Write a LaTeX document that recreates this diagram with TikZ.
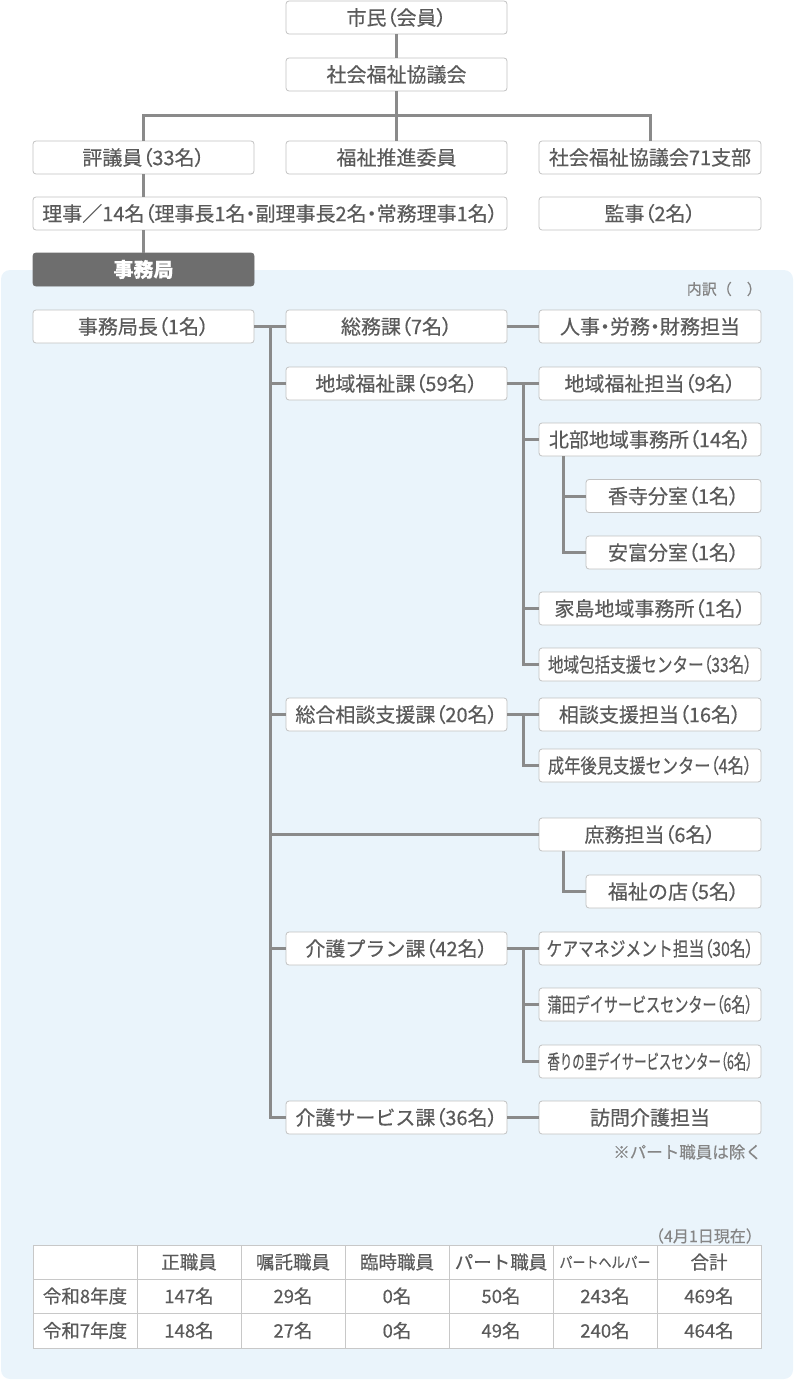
\documentclass[tikz,border=0pt]{standalone}
\usepackage{fontspec}
\setmainfont{Noto Sans CJK JP}[FakeBold=0.4]
\newfontfamily\pal{Noto Sans CJK JP}[RawFeature=+palt, FakeBold=0.4]
\usepackage{graphicx}
\definecolor{textgray}{HTML}{5A5A5A}
\definecolor{lightgray}{HTML}{858585}
\definecolor{linegray}{HTML}{8A8A8A}
\definecolor{bordergray}{HTML}{C2C2C2}
\definecolor{tablegray}{HTML}{C8C8C8}
\definecolor{bgblue}{HTML}{EAF4FB}
\definecolor{darkbox}{HTML}{6E6E6E}
\newcommand\sqz[2]{\resizebox{#1}{\height}{#2}}
\newcommand\lp{{\pal （}}
\newcommand\rp{{\pal ）}}
\newcommand\nk{{\pal ・}}
\tikzset{
  box/.style={draw=bordergray, line width=0.8pt, fill=white, rounded corners=3pt,
    minimum height=33pt, inner sep=0pt, text=textgray, font=\fontsize{20}{20}\selectfont},
  wa/.style={box, minimum width=221pt},
  wb/.style={box, minimum width=222pt},
  wc/.style={box, minimum width=175pt},
  dark/.style={box, draw=darkbox, fill=darkbox, text=white, font=\bfseries\fontsize{20}{20}\selectfont, minimum width=221pt},
  conn/.style={draw=linegray, line width=3pt},
  cell/.style={draw=tablegray, line width=0.8pt, fill=white, minimum width=104pt, minimum height=34pt,
    inner sep=0pt, text=textgray, font=\fontsize{18.5}{18.5}\selectfont},
  note/.style={anchor=east, inner sep=0pt, text=lightgray},
}
\begin{document}
\begin{tikzpicture}[x=1pt,y=-1pt]
\useasboundingbox (0,0) rectangle (794,1380);
\fill[bgblue, rounded corners=9pt] (1,270) rectangle (793,1379);

% top hierarchy
\node[wa] (shimin) at (396.5,17.5) {市民\lp 会員\rp};
\node[wa] (shakyo) at (396.5,74.5) {社会福祉協議会};
\node[wa] (hyogi) at (143.5,157.5) {評議員\lp 33名\rp};
\node[wa] (suishin) at (396.5,157.5) {福祉推進委員};
\node[wb] (shibu) at (650,157.5) {社会福祉協議会71支部};
\node[box, minimum width=474pt] (riji) at (270,213.5) {理事／14名\lp 理事長1名\nk 副理事長2名\nk 常務理事1名\rp};
\node[wb] (kanji) at (650,213.5) {監事\lp 2名\rp};
\node[dark] (jimu) at (143.5,269.5) {事務局};

\node[note, font=\fontsize{15}{15}\selectfont] (uchiwake) at (762,289) {内訳（　）};

% secretariat
\node[wa] (kyokucho) at (143.5,326.5) {事務局長\lp 1名\rp};
\node[wa] (somu) at (396.5,326.5) {総務課\lp 7名\rp};
\node[wa] (chiiki) at (396.5,383.5) {地域福祉課\lp 59名\rp};
\node[wa] (sodan) at (396.5,714.5) {総合相談支援課\lp 20名\rp};
\node[wa] (plan) at (396.5,948.5) {介護プラン課\lp 42名\rp};
\node[wa] (serv) at (396.5,1117.5) {介護サービス課\lp 36名\rp};

\node[wb] (jinji) at (650,326.5) {人事\nk 労務\nk 財務担当};
\node[wb] (chiikitanto) at (650,383.5) {地域福祉担当\lp 9名\rp};
\node[wb] (hokubu) at (650,439.5) {北部地域事務所\lp 14名\rp};
\node[wc] (koudera) at (673.5,496) {香寺分室\lp 1名\rp};
\node[wc] (yasutomi) at (673.5,552.5) {安富分室\lp 1名\rp};
\node[wb] (ieshima) at (650,608.5) {家島地域事務所\lp 1名\rp};
\node[wb] (houkatsu) at (650,664.5) {\sqz{204pt}{地域包括支援センター\lp 33名\rp}};
\node[wb] (sodantanto) at (650,714.5) {相談支援担当\lp 16名\rp};
\node[wb] (seinen) at (650,765.5) {\sqz{204pt}{成年後見支援センター\lp 4名\rp}};
\node[wb] (shomu) at (650,834.5) {庶務担当\lp 6名\rp};
\node[wc] (mise) at (673.5,891.5) {福祉の店\lp 5名\rp};
\node[wb] (care) at (650,948.5) {\sqz{207pt}{ケアマネジメント担当\lp 30名\rp}};
\node[wb] (kamata) at (650,1004.5) {\sqz{205pt}{蒲田デイサービスセンター\lp 6名\rp}};
\node[wb] (kaori) at (650,1061.5) {\sqz{205pt}{香りの里デイサービスセンター\lp 6名\rp}};
\node[wb] (houmon) at (650,1117.5) {訪問介護担当};

\node[note, font=\fontsize{16.5}{16.5}\selectfont] (jogai) at (762,1152) {※パート職員は除く};
\node[note, font=\fontsize{16}{16}\selectfont] (genzai) at (762,1236) {（4月1日現在）};

% connectors, top
\coordinate (barL) at (143.5,116);
\coordinate (barR) at (650,116);
\draw[conn] (shimin.south) -- (shakyo.north);
\draw[conn] (shakyo.south) -- (suishin.north);
\draw[conn] (hyogi.north) -- (barL) -- (barR) -- (shibu.north);
\draw[conn] (hyogi.south) -- (hyogi.south |- riji.north);
\draw[conn] (hyogi.south |- riji.south) -- (jimu.north);

% trunk
\coordinate (trunk) at (270,0);
\coordinate (sa) at (523,0);
\coordinate (sb) at (563,0);
\draw[conn] (kyokucho.east) -- (somu.west);
\draw[conn] (trunk |- somu.west) -- (trunk |- serv.west) -- (serv.west);
\draw[conn] (trunk |- chiiki.west) -- (chiiki.west);
\draw[conn] (trunk |- sodan.west) -- (sodan.west);
\draw[conn] (trunk |- shomu.west) -- (shomu.west);
\draw[conn] (trunk |- plan.west) -- (plan.west);

\draw[conn] (somu.east) -- (jinji.west);
\draw[conn] (serv.east) -- (houmon.west);

\draw[conn] (chiiki.east) -- (chiikitanto.west);
\draw[conn] (sa |- chiiki.east) -- (sa |- houkatsu.west) -- (houkatsu.west);
\draw[conn] (sa |- hokubu.west) -- (hokubu.west);
\draw[conn] (sa |- ieshima.west) -- (ieshima.west);
\draw[conn] (sb |- hokubu.south) -- (sb |- yasutomi.west) -- (yasutomi.west);
\draw[conn] (sb |- koudera.west) -- (koudera.west);

\draw[conn] (sodan.east) -- (sodantanto.west);
\draw[conn] (sa |- sodan.east) -- (sa |- seinen.west) -- (seinen.west);

\draw[conn] (sb |- shomu.south) -- (sb |- mise.west) -- (mise.west);

\draw[conn] (plan.east) -- (care.west);
\draw[conn] (sa |- plan.east) -- (sa |- kaori.west) -- (kaori.west);
\draw[conn] (sa |- kamata.west) -- (kamata.west);

% table
\foreach \c/\x/\t in {1/85/{}, 2/189/正職員, 3/293/嘱託職員, 4/397/臨時職員, 5/501/パート職員,
    6/605/{\fontsize{15}{15}\selectfont\sqz{91pt}{パートヘルパー}}, 7/709/合計}
  \node[cell] (t-0-\c) at (\x,1262) {\t};
\foreach \c/\x/\t in {1/85/令和8年度, 2/189/147名, 3/293/29名, 4/397/0名, 5/501/50名, 6/605/243名, 7/709/469名}
  \node[cell] (t-1-\c) at (\x,1296) {\t};
\foreach \c/\x/\t in {1/85/令和7年度, 2/189/148名, 3/293/27名, 4/397/0名, 5/501/49名, 6/605/240名, 7/709/464名}
  \node[cell, minimum height=35pt] (t-2-\c) at (\x,1330.5) {\t};
\end{tikzpicture}
\end{document}
